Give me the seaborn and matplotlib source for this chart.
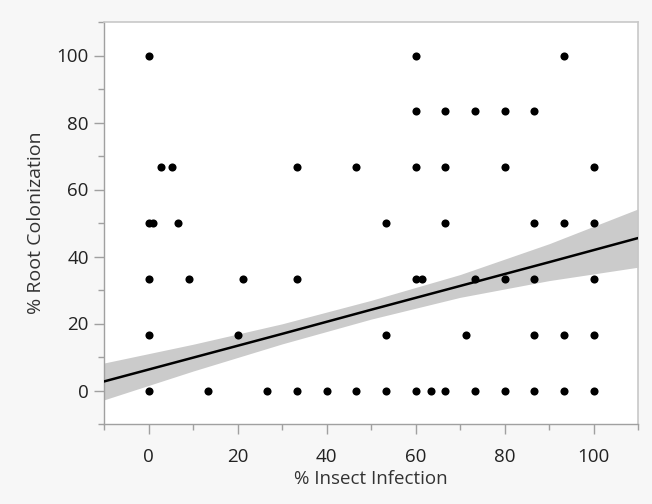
import numpy as np
import pandas as pd
import matplotlib
matplotlib.use("Agg")
import matplotlib.pyplot as plt
import seaborn as sns

# Data (x = % Insect Infection, y = % Root Colonization)
row_100 = [0, 60, 93.3]
row_83 = [60, 66.7, 73.3, 80, 86.7]
row_67 = [2.7, 5.2, 33.3, 46.7, 60, 66.7, 80, 100]
row_50 = [0, 1.0, 6.7, 53.3, 66.7, 86.7, 93.3, 100]
row_33 = [0, 9.2, 21.3, 33.3, 60, 61.5, 73.3, 80, 86.7, 100]
row_17 = [0, 20, 53.3, 71.4, 86.7, 93.3, 100]
row_0 = [0, 13.3, 26.7, 33.3, 40, 46.7, 53.3, 60, 63.5, 66.7, 73.3, 80, 86.7, 93.3, 100]
levels = [100, 83.33, 66.67, 50, 33.33, 16.67, 0]

# Fitted line and its confidence band
fit_x = [-10, 10, 30, 50, 70, 90, 110]
fit_y = [2.7, 9.8, 16.9, 24.1, 31.2, 38.3, 45.5]
band_lo = [-2.8, 5.8, 13.9, 21.3, 27.8, 32.8, 36.8]
band_hi = [8.2, 13.8, 19.9, 26.9, 34.6, 43.8, 54.2]

rows = [row_100, row_83, row_67, row_50, row_33, row_17, row_0]
xs, ys = [], []
for r, lv in zip(rows, levels):
    xs += r
    ys += [lv] * len(r)
df = pd.DataFrame({"insect": xs, "root": ys})
fit = pd.DataFrame({"x": fit_x, "y": fit_y, "lo": band_lo, "hi": band_hi})

sns.set_theme(style="white")
plt.rcParams['font.family'] = ['Open Sans', 'DejaVu Sans']

fig = plt.figure(figsize=(6.52, 5.04), dpi=100, facecolor="#f7f7f7")
ax = fig.add_axes([104/652, 1 - 424/504, (638-104)/652, (424-22)/504])
ax.set_facecolor("white")

ax.fill_between(fit["x"], fit["lo"], fit["hi"], color="#cbcbcb", lw=0, zorder=2)
sns.lineplot(data=fit, x="x", y="y", ax=ax, color="black", lw=1.8, zorder=3)
sns.scatterplot(data=df, x="insect", y="root", ax=ax, color="black", s=34,
                linewidth=0, zorder=4)

ax.set_xlim(-10, 110)
ax.set_ylim(-10, 110)
ax.set_xticks([0, 20, 40, 60, 80, 100])
ax.set_yticks([0, 20, 40, 60, 80, 100])
ax.set_xticks([-10, 10, 30, 50, 70, 90, 110], minor=True)
ax.set_yticks([-10, 10, 30, 50, 70, 90, 110], minor=True)
ax.tick_params(which="major", direction="out", length=7, width=1, color="#a0a0a0",
               labelsize=13.5, labelcolor="#222222", pad=4, bottom=True, left=True)
ax.tick_params(which="minor", direction="out", length=4, width=1, color="#a0a0a0",
               bottom=True, left=True)
ax.tick_params(axis="x", which="major", pad=10)
for side in ["left", "bottom"]:
    ax.spines[side].set_color("#a0a0a0")
    ax.spines[side].set_linewidth(1)
for side in ["top", "right"]:
    ax.spines[side].set_color("#c8c8c8")
    ax.spines[side].set_linewidth(1.2)

ax.set_xlabel("% Insect Infection", fontsize=13.5, color="#333333", labelpad=3)
ax.set_ylabel("% Root Colonization", fontsize=14, color="#333333", labelpad=8)

fig.savefig("out.png", dpi=100, facecolor=fig.get_facecolor())
